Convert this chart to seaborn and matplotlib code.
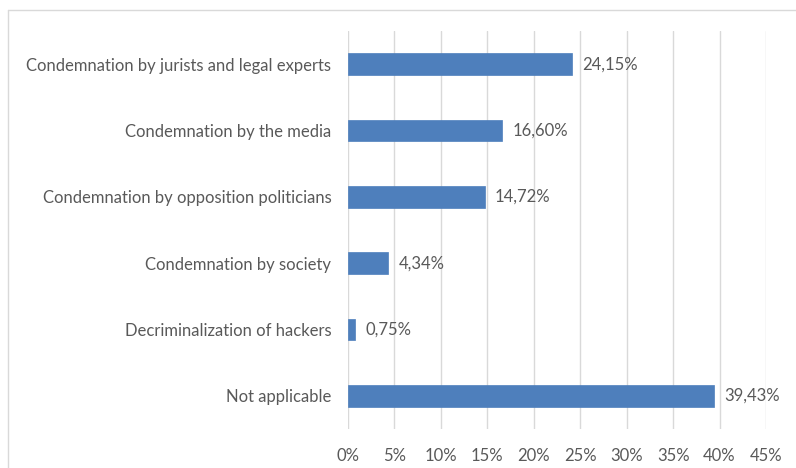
import matplotlib
matplotlib.use("Agg")
import matplotlib.pyplot as plt
import seaborn as sns
import pandas as pd
from matplotlib.lines import Line2D

categories = [
    "Condemnation by jurists and legal experts",
    "Condemnation by the media",
    "Condemnation by opposition politicians",
    "Condemnation by society",
    "Decriminalization of hackers",
    "Not applicable",
]
values = [24.15, 16.60, 14.72, 4.34, 0.75, 39.43]
tick_values = [0, 5, 10, 15, 20, 25, 30, 35, 40, 45]
tick_labels = ["0%", "5%", "10%", "15%", "20%", "25%", "30%", "35%", "40%", "45%"]

df = pd.DataFrame({"category": categories, "value": values})

sns.set_theme(style="white")
plt.rcParams["font.family"] = ["Lato", "DejaVu Sans"]

text_color = "#595959"
fig = plt.figure(figsize=(7.96, 4.68), dpi=100)
ax = fig.add_axes([348 / 796, 1 - 429 / 468, (766 - 348) / 796, (429 - 31) / 468])

sns.barplot(data=df, x="value", y="category", orient="h", color="#4e7fbc",
            width=0.33, saturation=1, ax=ax, edgecolor="#4e7fbc", linewidth=0.5)

ax.set_xlim(0, 45)
ax.set_ylim(5.5, -0.5)
ax.set_xticks(tick_values)
ax.set_xticklabels(tick_labels)
ax.set_xlabel("")
ax.set_ylabel("")
for x in tick_values:
    ax.axvline(x, color="#d9d9d9", linewidth=1, zorder=0)
for s in ax.spines.values():
    s.set_visible(False)
ax.tick_params(axis="x", length=0, pad=14, labelsize=12, labelcolor=text_color)
ax.tick_params(axis="y", length=0, pad=12, labelsize=12, labelcolor=text_color)

for i, v in enumerate(values):
    ax.text(v + 1.1, i, f"{v:.2f}%".replace(".", ","), va="center", ha="left",
            fontsize=12, color=text_color)

# chart border (partially visible)
fig.add_artist(Line2D([8 / 796, 1], [1 - 10 / 468, 1 - 10 / 468],
                      transform=fig.transFigure, color="#d9d9d9", linewidth=1))
fig.add_artist(Line2D([8 / 796, 8 / 796], [1 - 10 / 468, 0],
                      transform=fig.transFigure, color="#d9d9d9", linewidth=1))

fig.savefig("out.png", dpi=100)
